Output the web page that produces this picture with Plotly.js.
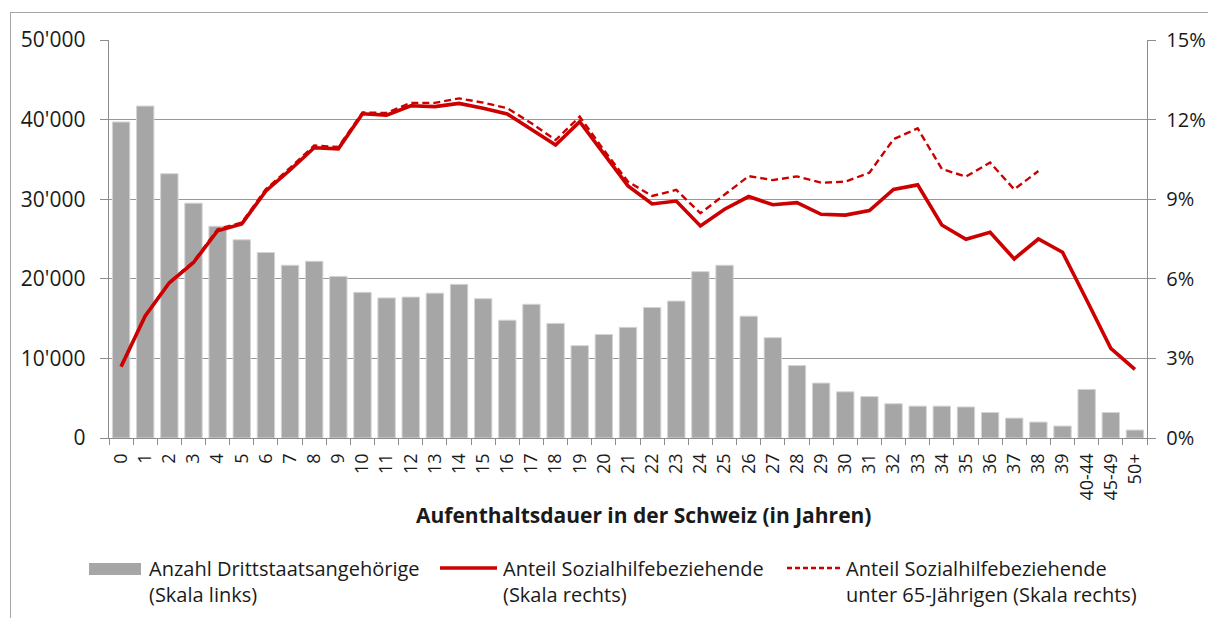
<!DOCTYPE html>
<html>
<head>
<meta charset="utf-8">
<script src="https://cdn.plot.ly/plotly-3.0.1.min.js"></script>
<style>
  html, body { margin: 0; padding: 0; background: #ffffff; overflow: hidden; }
  #frame { position: absolute; left: 10px; top: 12px; width: 1300px; height: 700px; border: 1px solid #a6a6a6; }
  #chart { position: absolute; left: 0; top: 0; width: 1208px; height: 618px; }
</style>
</head>
<body>
<div id="frame"></div>
<div id="chart"></div>
<script>
// ---- data ----
const categories = ['0','1','2','3','4','5','6','7','8','9',
  '10','11','12','13','14','15','16','17','18','19',
  '20','21','22','23','24','25','26','27','28','29',
  '30','31','32','33','34','35','36','37','38','39',
  '40-44','45-49','50+'];

// Anzahl Drittstaatsangehörige (Skala links)
const anzahl = [39700,41700,33200,29500,26600,24900,23300,21700,22200,20300,
  18300,17600,17700,18200,19300,17500,14800,16800,14400,11600,
  13000,13900,16400,17200,20900,21700,15300,12600,9100,6900,
  5800,5200,4300,4000,4000,3900,3200,2500,2000,1500,
  6100,3200,1000];

// Anteil Sozialhilfebeziehende in % (Skala rechts)
const anteil = [2.69,4.60,5.85,6.61,7.81,8.07,9.31,10.10,10.94,10.90,
  12.22,12.17,12.52,12.49,12.61,12.43,12.21,11.63,11.04,11.92,
  10.73,9.50,8.82,8.93,7.99,8.62,9.10,8.79,8.87,8.43,
  8.40,8.57,9.37,9.54,8.03,7.49,7.75,6.75,7.50,7.00,
  5.20,3.38,2.59];

// Anteil Sozialhilfebeziehende unter 65-Jährigen in % (Skala rechts)
const anteilU65 = [2.70,4.62,5.87,6.65,7.87,8.12,9.38,10.18,11.02,10.97,
  12.27,12.25,12.63,12.63,12.80,12.64,12.43,11.86,11.23,12.11,
  10.85,9.66,9.12,9.35,8.47,9.16,9.87,9.72,9.86,9.62,
  9.66,10.00,11.26,11.67,10.14,9.85,10.38,9.37,10.06,null,
  null,null,null];

const leftTicks = [0,10000,20000,30000,40000,50000];
const rightTicks = [0,3,6,9,12,15];
const rightTickLabels = ['0%','3%','6%','9%','12%','15%'];

const legendLabels = [
  ['Anzahl Drittstaatsangehörige','(Skala links)'],
  ['Anteil Sozialhilfebeziehende','(Skala rechts)'],
  ['Anteil Sozialhilfebeziehende','unter 65-Jährigen (Skala rechts)']
];
const xTitle = 'Aufenthaltsdauer in der Schweiz (in Jahren)';

// ---- layout helpers ----
const W = 1208, H = 618;
const M = {l: 109, r: 61, t: 40, b: 180};
const pw = W - M.l - M.r, ph = H - M.t - M.b;
const px = x => (x - M.l) / pw;
const py = y => (H - M.b - y) / ph;

const FONT = '"Open Sans", "Noto Sans", sans-serif';
const TXT = '#1a1a1a';
const RED = '#cc0000';
const GREY = '#a6a6a6';
const AXIS = '#8c8c8c';

const traces = [
  {
    type: 'bar', x: categories, y: anzahl, yaxis: 'y', name: legendLabels[0].join(' '),
    marker: {color: GREY, line: {color: '#d4d4d4', width: 1}},
    hoverinfo: 'x+y'
  },
  {
    type: 'scatter', mode: 'lines', x: categories, y: anteil, yaxis: 'y2', name: legendLabels[1].join(' '),
    line: {color: RED, width: 3.6}, connectgaps: false
  },
  {
    type: 'scatter', mode: 'lines', x: categories, y: anteilU65, yaxis: 'y2', name: legendLabels[2].join(' '),
    line: {color: RED, width: 2.4, dash: '7px,4px'}, connectgaps: false
  }
];

const shapes = [
  // legend symbols
  {type: 'rect', xref: 'paper', yref: 'paper', x0: px(89), x1: px(141), y0: py(575), y1: py(563),
   fillcolor: GREY, line: {width: 0}},
  {type: 'line', xref: 'paper', yref: 'paper', x0: px(440), x1: px(497), y0: py(568), y1: py(568),
   line: {color: RED, width: 3.6}},
  {type: 'line', xref: 'paper', yref: 'paper', x0: px(787), x1: px(840), y0: py(568), y1: py(568),
   line: {color: RED, width: 2.4, dash: '5px,3px'}}
];

const legendX = [147, 501, 844];
const annotations = [];
legendLabels.forEach((lines, i) => {
  lines.forEach((t, j) => {
    annotations.push({
      xref: 'paper', yref: 'paper', x: px(legendX[i]), y: py(568 + j * 26),
      xanchor: 'left', yanchor: 'middle', showarrow: false, text: t, align: 'left',
      font: {family: FONT, size: 20, color: TXT}
    });
  });
});
annotations.push({
  xref: 'paper', yref: 'paper', x: px(643), y: py(515), xanchor: 'center', yanchor: 'middle',
  showarrow: false, text: '<b>' + xTitle + '</b>',
  font: {family: FONT, size: 21, color: TXT}
});

const layout = {
  width: W, height: H,
  margin: M,
  paper_bgcolor: 'rgba(0,0,0,0)',
  plot_bgcolor: 'rgba(0,0,0,0)',
  separators: ".'",
  showlegend: false,
  bargap: 0.28,
  font: {family: FONT, color: TXT},
  xaxis: {
    type: 'category', range: [-0.5, categories.length - 0.5],
    tickangle: -90, tickson: 'boundaries', ticks: 'outside', ticklen: 6, tickcolor: AXIS,
    tickfont: {family: FONT, size: 18, color: TXT},
    showline: true, linecolor: AXIS, linewidth: 1.3, showgrid: false, zeroline: false,
    ticklabelstandoff: 7
  },
  yaxis: {
    range: [0, 50000], tickvals: leftTicks, tickformat: ',d',
    ticks: 'outside', ticklen: 8, tickcolor: AXIS,
    showline: true, linecolor: AXIS, linewidth: 1.3,
    showgrid: true, gridcolor: '#979797', gridwidth: 1.3, zeroline: false,
    tickfont: {family: FONT, size: 21, color: TXT}, ticklabelstandoff: 10
  },
  yaxis2: {
    overlaying: 'y', side: 'right', range: [0, 15],
    tickmode: 'array', tickvals: rightTicks, ticktext: rightTickLabels,
    ticks: 'outside', ticklen: 8, tickcolor: AXIS,
    showline: true, linecolor: AXIS, linewidth: 1.3,
    showgrid: false, zeroline: false,
    tickfont: {family: FONT, size: 20, color: TXT}, ticklabelstandoff: 6
  },
  shapes: shapes,
  annotations: annotations
};

Plotly.newPlot('chart', traces, layout, {displayModeBar: false, staticPlot: true});
</script>
</body>
</html>
